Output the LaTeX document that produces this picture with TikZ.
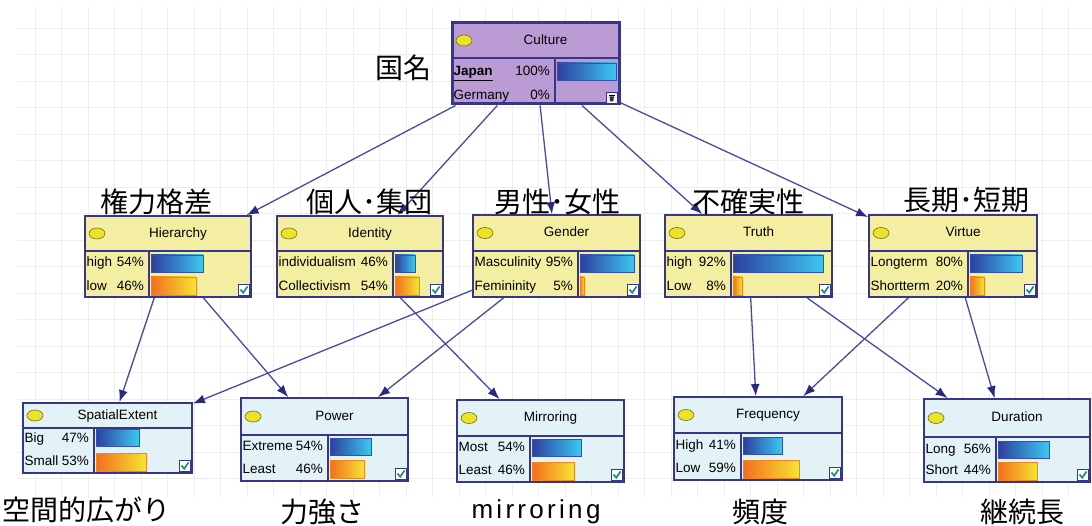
\documentclass[tikz,border=0pt]{standalone}
\usepackage{fontspec}
\setmainfont{Liberation Sans}
\newfontfamily\jpfont{Noto Sans CJK JP}
\usetikzlibrary{arrows.meta,fit}
\definecolor{navy}{HTML}{36368C}
\definecolor{edgecol}{HTML}{4A4AA6}
\definecolor{tipcol}{HTML}{2A2A82}
\definecolor{culturefill}{HTML}{BA9BD4}
\definecolor{midfill}{HTML}{F3EEA2}
\definecolor{lowfill}{HTML}{E2F2F6}
\definecolor{ovalfill}{HTML}{EDE326}
\definecolor{ovaledge}{HTML}{6E6A1E}
\definecolor{blueL}{HTML}{2D3F9E}
\definecolor{blueR}{HTML}{3CC8F2}
\definecolor{blueedge}{HTML}{3552AA}
\definecolor{orangeL}{HTML}{F36E20}
\definecolor{orangeR}{HTML}{F5E530}
\definecolor{orangeedge}{HTML}{F0861E}
\definecolor{checkcol}{HTML}{1C8C7E}
\definecolor{gridcol}{HTML}{EEEEEE}

\newcommand\bnbox[9]{%
  \node[boxst, #8, fit={(#2,#3) (#4,#5)}] (#1) {};
  \draw[sepline] (#2,#6) -- (#4,#6);
  \draw[sepline] (#7,#6) -- (#7,#5);
  \draw[ovalst] ({#2+12},{(#3+#6)/2}) ellipse (8pt and 5.5pt);
  \node[rowt] (#1-t) at ({(#2+#4)/2+10},{(#3+#6)/2}) {#9};
}
\newcommand\bnrows[9]{%
  \node[rowt, anchor=west] (#1-a) at ({#2+1.5},#4) {#6};
  \node[rowt, anchor=east] (#1-ap) at ({#3-5},#4) {#7};
  \node[rowt, anchor=west] (#1-b) at ({#2+1.5},#5) {#8};
  \node[rowt, anchor=east] (#1-bp) at ({#3-5},#5) {#9};
}
\newcommand\bnbars[7]{%
  \shade[left color=blueL, right color=blueR] ({#1+2},{#2-8.5}) rectangle (#4,{#2+8.5});
  \draw[draw=blueedge, line width=0.9pt] ({#1+2},{#2-8.5}) rectangle (#4,{#2+8.5});
  \shade[left color=orangeL, right color=orangeR] ({#1+2},{#3-9}) rectangle (#5,{#3+9});
  \draw[draw=orangeedge, line width=0.9pt] ({#1+2},{#3-9}) rectangle (#5,{#3+9});
  \draw[draw=navy, fill=white, line width=0.8pt] ({#6-12.5},{#7-12.5}) rectangle ({#6-1.5},{#7-1.5});
  \draw[checkcol, line width=1.7pt] ({#6-10.5},{#7-7.5}) -- ({#6-7.8},{#7-4.3}) -- ({#6-3.5},{#7-10.5});
}

\begin{document}
\begin{tikzpicture}[x=1pt,y=-1pt,
  boxst/.style={draw=navy, line width=1.8pt, inner sep=0pt},
  sepline/.style={draw=navy, line width=1.3pt},
  ovalst/.style={draw=ovaledge, fill=ovalfill, line width=0.6pt},
  rowt/.style={font=\fontsize{13.5}{15}\selectfont, inner sep=0pt, text height=10pt, text depth=2.5pt},
  edge/.style={draw=edgecol, line width=1.3pt, -{Latex[length=12pt,width=9pt,color=tipcol]}},
  jplab/.style={font=\jpfont\fontsize{28}{30}\selectfont, inner sep=0pt},
  gridline/.style={draw=gridcol, line width=0.9pt}]
\useasboundingbox (0,0) rectangle (1092,526);
\fill[white] (0,0) rectangle (1092,526);
% grid
\foreach \i in {0,...,39} \draw[gridline] ({35+26.5*\i},7) -- ({35+26.5*\i},497);
\foreach \j in {0,...,17} \draw[gridline] (17,{28+26.5*\j}) -- (1092,{28+26.5*\j});

% Culture
\bnbox{culture}{452}{23}{619}{104}{58}{555}{fill=culturefill, line width=3pt}{Culture}
\node[rowt, anchor=west] (culture-a) at (453.5,72) {\textbf{\underline{Japan}}};
\node[rowt, anchor=east] (culture-ap) at (550,72) {100\%};
\node[rowt, anchor=west] (culture-b) at (453.5,96) {Germany};
\node[rowt, anchor=east] (culture-bp) at (550,96) {0\%};
\shade[left color=blueL, right color=blueR] (557,63) rectangle (616,80);
\draw[draw=blueedge, line width=0.9pt] (557,63) rectangle (616,80);
\draw[draw=navy, fill=white!85!culturefill, line width=0.7pt] (606.5,92.5) rectangle (617,103);
\draw[black, line width=0.8pt] (608.5,95) -- (615,95);
\fill[black!80] (609.5,96.5) -- (614,96.5) -- (613.2,101.5) -- (610.3,101.5) -- cycle;

% middle row
\bnbox{hier}{85}{216}{251}{297}{251}{149}{fill=midfill}{Hierarchy}
\bnrows{hier}{85}{149}{263}{287}{high}{54\%}{low}{46\%}
\bnbars{149}{263.5}{286}{203}{196}{251}{297}

\bnbox{ident}{277}{216}{443}{297}{251}{393}{fill=midfill}{Identity}
\bnrows{ident}{277}{393}{263}{287}{individualism}{46\%}{Collectivism}{54\%}
\bnbars{393}{263.5}{286}{415}{419}{443}{297}

\bnbox{gender}{473}{215}{640}{297}{251}{578}{fill=midfill}{Gender}
\bnrows{gender}{473}{578}{263}{287}{Masculinity}{95\%}{Femininity}{5\%}
\bnbars{578}{263.5}{286}{634}{584}{640}{297}

\bnbox{truth}{665}{215}{832}{297}{251}{731}{fill=midfill}{Truth}
\bnrows{truth}{665}{731}{263}{287}{high}{92\%}{Low}{8\%}
\bnbars{731}{263.5}{286}{823}{742}{832}{297}

\bnbox{virtue}{869}{215}{1037}{297}{251}{968}{fill=midfill}{Virtue}
\bnrows{virtue}{869}{968}{263}{287}{Longterm}{80\%}{Shortterm}{20\%}
\bnbars{968}{263.5}{286}{1022}{984}{1037}{297}

% bottom row
\bnbox{spatial}{23}{403}{192}{473}{428}{94}{fill=lowfill}{SpatialExtent}
\bnrows{spatial}{23}{94}{439}{462}{Big}{47\%}{Small}{53\%}
\bnbars{94}{438}{462.5}{139}{146}{192}{473}

\bnbox{power}{241}{398}{408}{481}{435}{328}{fill=lowfill}{Power}
\bnrows{power}{241}{328}{447}{470}{Extreme}{54\%}{Least}{46\%}
\bnbars{328}{446.5}{469.5}{371}{364}{408}{481}

\bnbox{mirror}{457}{400}{624}{482}{436}{530}{fill=lowfill}{Mirroring}
\bnrows{mirror}{457}{530}{448}{471}{Most}{54\%}{Least}{46\%}
\bnbars{530}{448}{471}{581}{574}{624}{482}

\bnbox{freq}{674}{397}{842}{480}{433}{741}{fill=lowfill}{Frequency}
\bnrows{freq}{674}{741}{446}{469}{High}{41\%}{Low}{59\%}
\bnbars{741}{446}{469}{782}{799}{842}{480}

\bnbox{dur}{924}{399}{1090}{482}{437}{996}{fill=lowfill}{Duration}
\bnrows{dur}{924}{996}{450}{471}{Long}{56\%}{Short}{44\%}
\bnbars{996}{449.5}{471}{1049}{1037}{1090}{482}

% edges
\draw[edge] (culture) -- (hier);
\draw[edge] (culture) -- (ident);
\draw[edge] (culture) -- (gender);
\draw[edge] (culture) -- (truth);
\draw[edge] (culture) -- (virtue);
\draw[edge] (hier) -- (spatial);
\draw[edge] (hier) -- (power);
\draw[edge] (ident) -- (mirror);
\draw[edge] (gender) -- (spatial);
\draw[edge] (gender) -- (power);
\draw[edge] (truth) -- (freq);
\draw[edge] (truth) -- (dur);
\draw[edge] (virtue) -- (freq);
\draw[edge] (virtue) -- (dur);

% labels
\node[jplab] (l-kokumei) at (403,68) {国名};
\node[jplab] (l-hier) at (156,202) {権力格差};
\node[jplab] (l-ident) at (369,202) {個人･集団};
\node[jplab] (l-gender) at (557,202) {男性･女性};
\node[jplab] (l-truth) at (748,202) {不確実性};
\node[jplab] (l-virtue) at (966,200) {長期･短期};
\node[jplab] (l-spatial) at (86,510) {空間的広がり};
\node[jplab] (l-power) at (322,512) {力強さ};
\node[font=\fontsize{26}{28}\selectfont, inner sep=0pt, anchor=base] (l-mirror) at (536,518) {m\kern3.3pt i\kern3.3pt r\kern3.3pt r\kern3.3pt o\kern3.3pt r\kern3.3pt i\kern3.3pt n\kern3.3pt g};
\node[jplab] (l-freq) at (760,512) {頻度};
\node[jplab] (l-dur) at (1022,512) {継続長};
\end{tikzpicture}
\end{document}
